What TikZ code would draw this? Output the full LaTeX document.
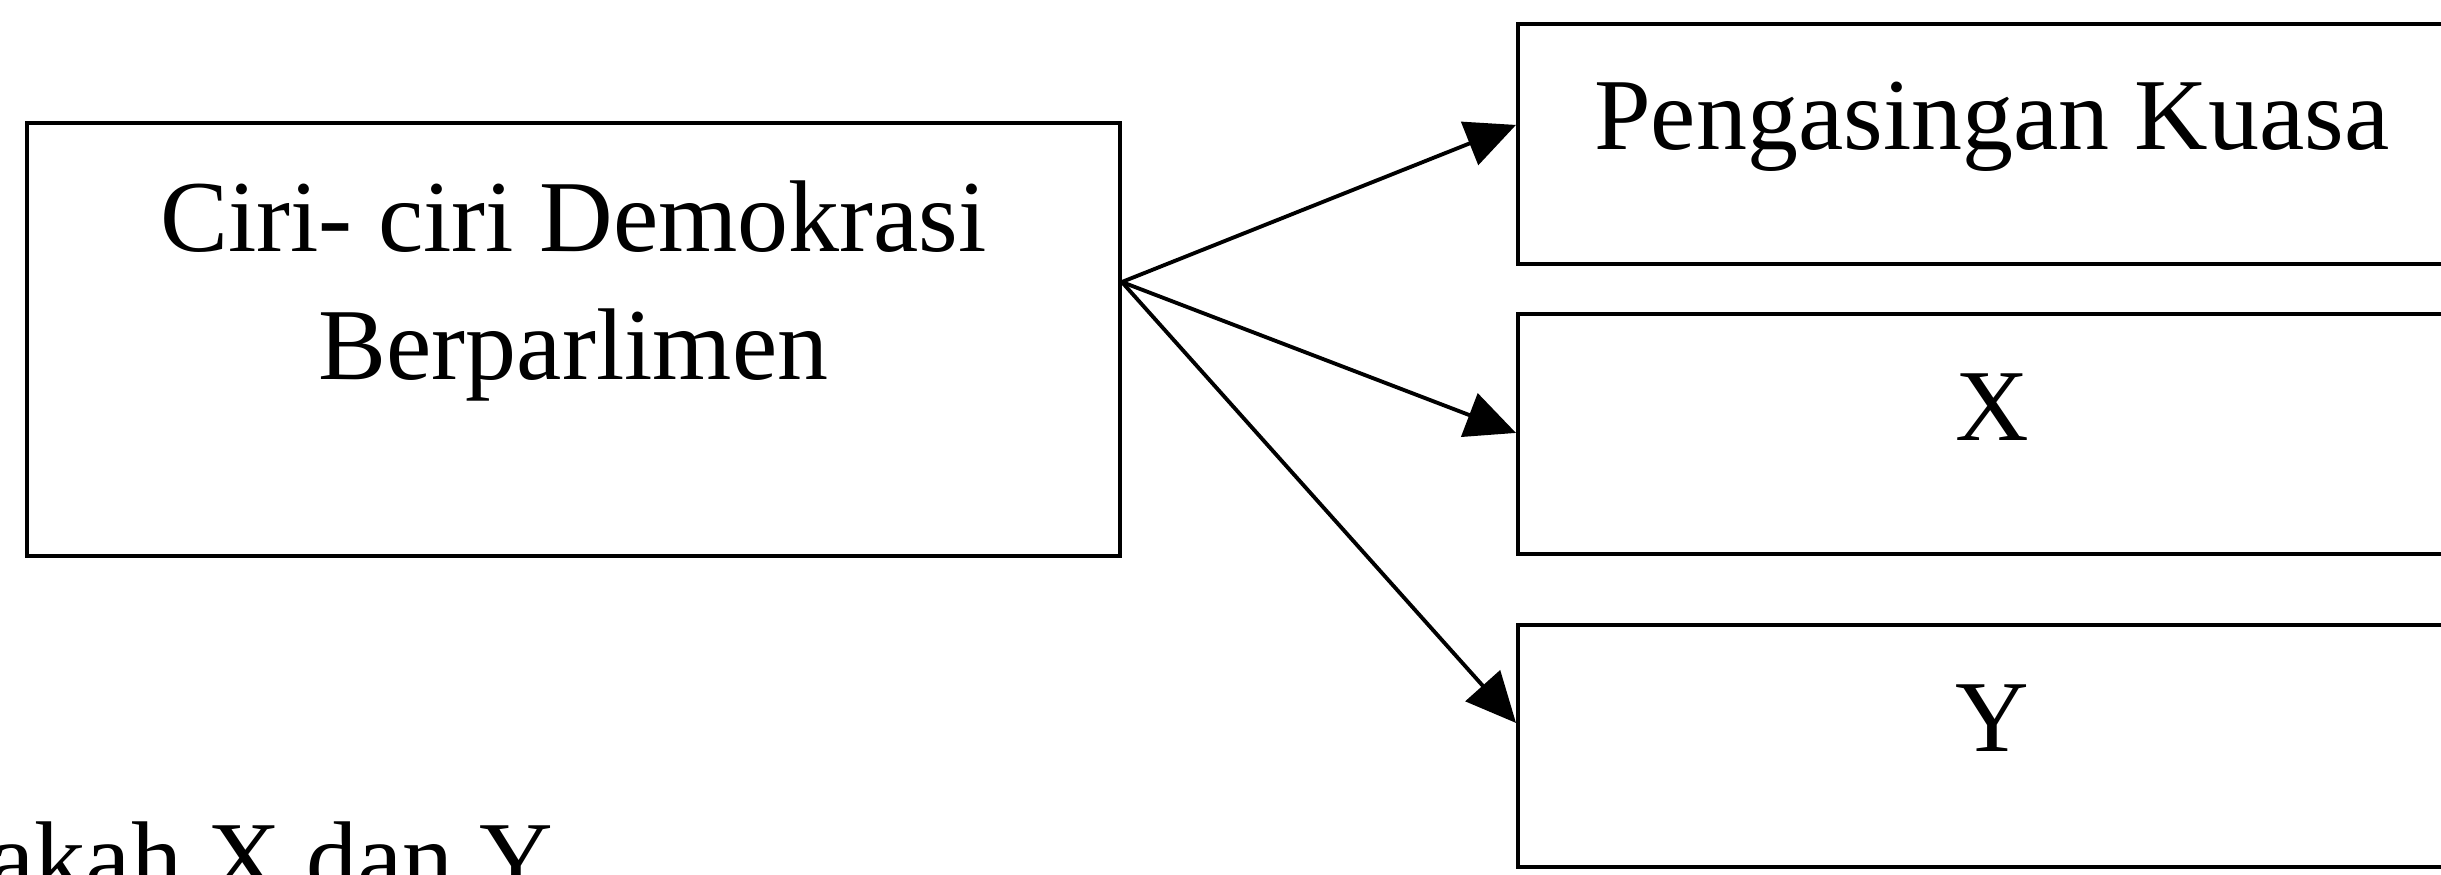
\documentclass[tikz,border=0pt]{standalone}
\usepackage{fontspec}
\setmainfont{Liberation Serif}
\usetikzlibrary{arrows.meta,calc}

\begin{document}
\begin{tikzpicture}[
    kotak/.style={draw, line width=1.1pt, inner sep=0pt, anchor=north west},
    teks/.style={font=\fontsize{29}{36.4}\selectfont, inner sep=0pt, anchor=base, align=center},
    panah/.style={-{Triangle[length=0.5cm, width=0.46cm]}, line width=1.1pt}
]
    \useasboundingbox (0, 0) rectangle (24.41, -8.75);

    \node[kotak, minimum width=10.93cm, minimum height=4.33cm] (ciri) at (0.25, -1.21) {};
    \node[teks] (ciritext) at ($(ciri.north)+(0, -2.58)$) {Ciri- ciri Demokrasi\\Berparlimen};

    \node[kotak, minimum width=9.48cm, minimum height=2.40cm] (kuasa) at (15.16, -0.22) {};
    \node[teks] (kuasatext) at ($(kuasa.north)+(0, -1.28)$) {Pengasingan Kuasa};

    \node[kotak, minimum width=9.48cm, minimum height=2.40cm] (x) at (15.16, -3.12) {};
    \node[teks] (xtext) at ($(x.north)+(0, -1.29)$) {X};

    \node[kotak, minimum width=9.48cm, minimum height=2.42cm] (y) at (15.16, -6.23) {};
    \node[teks] (ytext) at ($(y.north)+(0, -1.28)$) {Y};

    \coordinate (pangkal) at ($(ciri.north east)+(0, -1.61)$);
    \draw[panah] (pangkal) -- ($(kuasa.west)+(0, 0.19)$);
    \draw[panah] (pangkal) -- ($(x.west)+(0, 0.01)$);
    \draw[panah] (pangkal) -- ($(y.west)+(0, 0.23)$);

    \node[teks, anchor=base west] (soalan) at (-0.11, -8.92) {akah X dan Y};
\end{tikzpicture}
\end{document}
